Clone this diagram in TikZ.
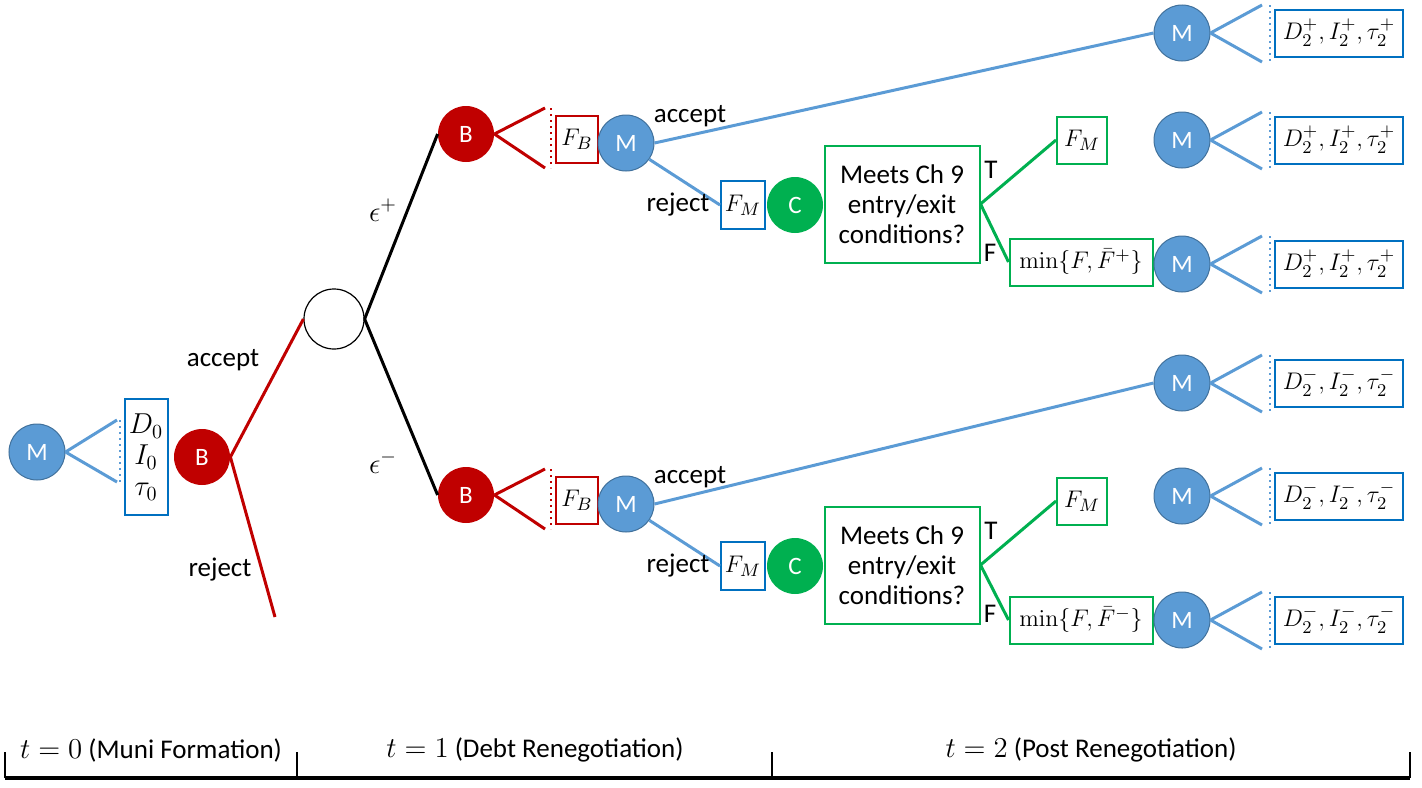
\documentclass[tikz,border=0pt]{standalone}
\usepackage[no-math]{fontspec}
\setmainfont{Carlito}
\usepackage{amsmath}
\usetikzlibrary{positioning}
\definecolor{mblue}{RGB}{91,155,213}
\definecolor{mborder}{RGB}{65,113,156}
\definecolor{bred}{RGB}{192,0,0}
\definecolor{cgreen}{RGB}{0,176,80}
\definecolor{boxblue}{RGB}{0,112,192}

\begin{document}
\begin{tikzpicture}[
    x=0.5pt, y=-0.5pt,
    every node/.style = {font=\fontsize{13.5}{16}\selectfont},
    player/.style  = {circle, minimum size=28pt, inner sep=0pt,
                      text=white, font=\fontsize{12.5}{14}\selectfont},
    muni/.style    = {player, fill=mblue, draw=mborder, line width=0.5pt},
    bank/.style    = {player, fill=bred},
    court/.style   = {player, fill=cgreen},
    chance/.style  = {circle, draw=black, line width=0.6pt, minimum size=30pt, inner sep=0pt},
    valbox/.style  = {rectangle, draw=boxblue, line width=1pt, fill=white,
                      inner sep=1pt, minimum height=23.5pt, font=\fontsize{13}{15}\selectfont},
    redbox/.style  = {valbox, draw=bred},
    greenbox/.style= {valbox, draw=cgreen},
    bline/.style   = {mblue, line width=1.5pt},
    rline/.style   = {bred, line width=1.5pt},
    gline/.style   = {cgreen, line width=1.5pt},
    kline/.style   = {black, line width=1.5pt},
    bdot/.style    = {mblue, line width=1pt, dotted},
    rdot/.style    = {bred, line width=1pt, dotted},
    axis/.style    = {black, line width=1.6pt},
]
\useasboundingbox (0,0) rectangle (1422,787);

% --- t = 0 ---
\node[muni] (m0) at (37,452) {M};
\coordinate (m0a) at (117,420);
\coordinate (m0b) at (117,482);
\draw[bline] (m0.east) -- (m0a);
\draw[bline] (m0.east) -- (m0b);
\draw[bdot] ([xshift=1.5pt]m0a) -- ([xshift=1.5pt]m0b);
\node[valbox, align=center, minimum width=21.5pt, minimum height=58pt,
      font=\fontsize{14}{16}\selectfont]
    (s0) at (146,457) {$D_0$\\[-0.5pt] $I_0$\\[-0.5pt] $\tau_0$};
\node[bank] (b0) at (202,457) {B};
\node[chance] (nat) at (334,319) {};
\coordinate (rej0) at (275,617);
\draw[rline] (b0.east) -- (nat.west);
\draw[rline] (b0.east) -- (rej0);
\node (lacc0) at (223,360) {accept};
\node (lrej0) at (220,570) {reject};

% --- t = 1, oben und unten ---
\node[bank] (b1) at (466,134) {B};
\node[bank] (b2) at (466,495) {B};
\draw[kline] (nat.east) -- (b1.west);
\draw[kline] (nat.east) -- (b2.west);
\node[font=\fontsize{14}{16}\selectfont] (lep1) at (383,210) {$\epsilon^{+}$};
\node[font=\fontsize{14}{16}\selectfont] (lep2) at (383,462) {$\epsilon^{-}$};

\foreach \k/\y in {1/134, 2/495} {
    \coordinate (fb\k a) at (545,\y-26);
    \coordinate (fb\k b) at (545,\y+34);
    \draw[rline] (b\k.east) -- (fb\k a);
    \draw[rline] (b\k.east) -- (fb\k b);
    \draw[rdot] ([xshift=3pt]fb\k a) -- ([xshift=3pt]fb\k b);
    \node[redbox, minimum width=21pt] (fb\k) at (577,\y+5) {$F_B$};
    \node[muni] (m\k) at (626,\y+9) {M};
    \node[valbox, minimum width=22pt, minimum height=24pt] (fm\k) at (743,\y+71) {$F_M$};
    \node[court] (c\k) at (795,\y+71) {C};
    \node[greenbox, align=center, minimum width=77.5pt, minimum height=58.5pt,
          font=\fontsize{13.5}{15}\selectfont]
        (cond\k) at (902,\y+70) {Meets Ch 9\\entry/exit\\conditions?};
    \node[greenbox, minimum width=25pt] (fg\k) at (1082,\y+6) {$F_M$};
    \draw[bline] (m\k.-35) -- (fm\k.west);
    \draw[gline] (cond\k.east) -- (fg\k.west);
    \node (lacc\k) at (690,\y-18) {accept};
    \node (lrej\k) at (678,\y+71) {reject};
    \node (lt\k) at (991,\y+36) {T};
    \node (lf\k) at (990,\y+119) {F};
}
\node[greenbox, minimum width=71.5pt] (mn1) at (1081,262) {$\min\{F,\bar{F}^{+}\}$};
\node[greenbox, minimum width=71.5pt] (mn2) at (1081,620) {$\min\{F,\bar{F}^{-}\}$};
\draw[gline] (cond1.east) -- (mn1.west);
\draw[gline] (cond2.east) -- (mn2.west);

% --- t = 2, rechte Spalte ---
\foreach \i/\y/\s in {1/33/+, 2/140/+, 3/264/+, 4/383/-, 5/496/-, 6/620/-} {
    \node[muni] (mr\i) at (1182,\y) {M};
    \coordinate (mr\i a) at (1262,\y-28);
    \coordinate (mr\i b) at (1262,\y+29);
    \draw[bline] (mr\i.east) -- (mr\i a);
    \draw[bline] (mr\i.east) -- (mr\i b);
    \draw[bdot] ([xshift=4pt]mr\i a) -- ([xshift=4pt]mr\i b);
    \node[valbox, minimum width=64pt] (sr\i) at (1339,\y) {$D_2^{\s},I_2^{\s},\tau_2^{\s}$};
}
\draw[bline] (m1.east) -- (mr1.west);
\draw[bline] (m2.east) -- (mr4.west);

% --- Zeitachse ---
\coordinate (t0) at (5,778);
\coordinate (t1) at (297,778);
\coordinate (t2) at (772,778);
\coordinate (t3) at (1410,778);
\draw[axis] (t0) -- (t3);
\foreach \p in {t0,t1,t2,t3}
    \draw[black, line width=0.8pt] (\p) -- ++(0,-26);
\node (per0) at (151,750) {$t=0$ (Muni Formation)};
\node (per1) at (535,750) {$t=1$ (Debt Renegotiation)};
\node (per2) at (1091,750) {$t=2$ (Post Renegotiation)};

\end{tikzpicture}
\end{document}
